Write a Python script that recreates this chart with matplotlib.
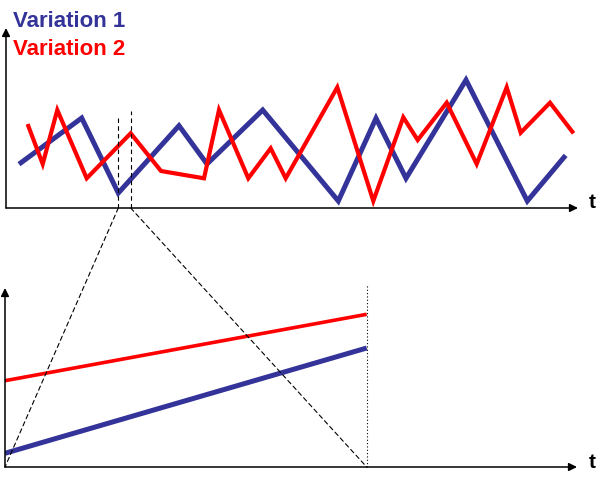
import matplotlib.pyplot as plt
from matplotlib.patches import ConnectionPatch

# top chart: t position and value for both variations
blue_t = [15, 75.7, 112.3, 173, 201, 256.7, 332.3, 370, 400, 460, 521.3, 558]
blue_v = [45.3, 90, 15, 82.3, 44, 98, 7, 89.7, 29.7, 128, 7, 50.7]
red_t = [22.3, 36.7, 51.3, 80.7, 124.7, 155, 198, 213, 242.3, 264.7, 279.7,
         331.3, 367.3, 397.3, 411.7, 440.7, 470.7, 500.7, 514.7, 544, 566.3]
red_v = [82, 44, 98, 29.7, 74.7, 37, 29.7, 98, 29.7, 59.7, 29.7,
         120.7, 7, 90.7, 68, 105.3, 44, 120.7, 75.3, 105.3, 76.3]

# zoom window and the magnified lines
zoom_t = [112.3, 124.7]
zoom_marks = [90, 97]
zoom_blue = [13.7, 119]
zoom_red = [86.3, 152.7]

BLUE = '#333399'
RED = '#ff0000'
W, H = 606, 480

fig = plt.figure(figsize=(W / 100, H / 100), dpi=100)
ax_top = fig.add_axes([6 / W, (H - 208) / H, 572 / W, 180 / H])
ax_bot = fig.add_axes([5 / W, (H - 467) / H, 572 / W, 179 / H])


def arrows(ax):
    ax.axis('off')
    for end in [(1, 0), (0, 1)]:
        ax.annotate('', xy=end, xytext=(0, 0), xycoords='axes fraction',
                    arrowprops=dict(arrowstyle='-|>', color='black', lw=1.1,
                                    mutation_scale=12, shrinkA=0, shrinkB=0))


ax_top.plot(blue_t, blue_v, color=BLUE, lw=3.6, solid_joinstyle='miter')
ax_top.plot(red_t, red_v, color=RED, lw=3.0, solid_joinstyle='miter')
for t, h in zip(zoom_t, zoom_marks):
    ax_top.plot([t, t], [0, h], color='black', lw=0.8, ls=(0, (4, 3)))
ax_top.set_xlim(0, 572)
ax_top.set_ylim(0, 180)
arrows(ax_top)

span = zoom_t[1] - zoom_t[0]
ax_bot.plot(zoom_t, zoom_red, color=RED, lw=2.6, solid_capstyle='butt')
ax_bot.plot(zoom_t, zoom_blue, color=BLUE, lw=3.6, solid_capstyle='butt')
ax_bot.plot([zoom_t[1], zoom_t[1]], [0, 183], color='black', lw=0.8,
            ls=(0, (1, 2)), clip_on=False)
ax_bot.set_xlim(zoom_t[0], zoom_t[0] + 572 * span / 361.7)
ax_bot.set_ylim(0, 179)
arrows(ax_bot)

for t in zoom_t:
    con = ConnectionPatch(xyA=(t, 0), coordsA=ax_top.transData,
                          xyB=(t, 0), coordsB=ax_bot.transData,
                          color='black', lw=0.8, ls=(0, (4, 3)))
    fig.add_artist(con)

font = ['Liberation Sans', 'DejaVu Sans']
fig.text(13 / W, 1 - 27 / H, 'Variation 1', color=BLUE, fontsize=16,
         fontweight='bold', family=font, va='baseline')
fig.text(13 / W, 1 - 55 / H, 'Variation 2', color=RED, fontsize=16,
         fontweight='bold', family=font, va='baseline')
fig.text(592 / W, 1 - 208 / H, 't', fontsize=15, fontweight='bold',
         family=font, ha='center', va='baseline')
fig.text(592 / W, 1 - 468 / H, 't', fontsize=15, fontweight='bold',
         family=font, ha='center', va='baseline')

fig.savefig('out.png', dpi=100)
